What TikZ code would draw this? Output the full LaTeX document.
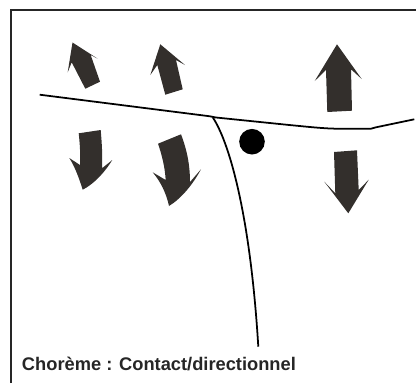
\documentclass[tikz,border=0pt]{standalone}
\usepackage{fontspec}
\setmainfont{Liberation Sans}
\usepackage{tikz}
\usetikzlibrary{positioning}
\definecolor{flechegris}{HTML}{332F2C}
\tikzset{
cadre/.style={
  draw=black!85, 
  line width=0.9pt
  }, 
trait/.style={draw=black, line width=1.25pt, line join=round}, 
fleche/.style={fill=flechegris, draw=none}
}

\begin{document}
\begin{tikzpicture}[x=0.025cm, y=-0.025cm]
\useasboundingbox (0,0) rectangle (416,383);
\draw[cadre] (11,383) -- (11,10) -- (416,10);
% fleches du haut
\fill[fleche] (72.5,42.5) -- (97.7,58.7) -- (90.7,55) -- (100,81.7) -- (85.3,88.7) -- (71.7,62.3) -- (67.7,72.3) -- cycle;
\fill[fleche] (160.3,44.3) -- (185,65) -- (176,60) -- (182.7,89.3) -- (165.3,94.7) -- (157.3,65) -- (150.3,75) -- cycle;
\fill[fleche] (337,44.3) -- (361.7,79) -- (351,69.3) -- (352,110.7) -- (327.3,112) -- (326,70) -- (314.7,81) -- cycle;
% fleches du bas
\fill[fleche] (78.7,133.3) -- (100.7,130) .. controls (102,145) and (102.5,155) .. (102,168.3) -- (112.3,160) .. controls (105,172) and (94,184) .. (82.7,189.7) .. controls (79,178) and (75,167) .. (69.3,158) -- (80,165) .. controls (80.5,155) and (80,145) .. (78.7,133.3) -- cycle;
\fill[fleche] (158,143.7) -- (181,134.3) .. controls (187,150) and (190,165) .. (190,182) -- (201,169.3) .. controls (193,184) and (182,198) .. (169,206) .. controls (166,192) and (160,181) .. (152.7,172.3) -- (165.7,180) .. controls (165,168) and (162,155) .. (158,143.7) -- cycle;
\fill[fleche] (334,152) -- (357,150.3) -- (358.7,190) -- (368.7,179.7) -- (348.3,213.3) -- (324.3,181.7) -- (335.3,193.3) -- cycle;
% frontiere
\draw[trait] (39.7,94.7) -- (210,116.3) -- (216,117.5) -- (289.3,125) .. controls (310,127) and (325,128.7) .. (339.3,128.7) -- (371,128.7) -- (376,127.3) -- (414.3,119.3);
\draw[trait] (212.7,117.3) .. controls (228,140) and (250,210) .. (258.3,346.7);
\fill[black] (252,141.7) circle (12.8);
\node[anchor=base west, inner sep=0pt, text=black!85, font=\bfseries\fontsize{13}{15}\selectfont] (titre) at (21.7,370) {Chorème : Contact/directionnel};
\end{tikzpicture}
\end{document}
